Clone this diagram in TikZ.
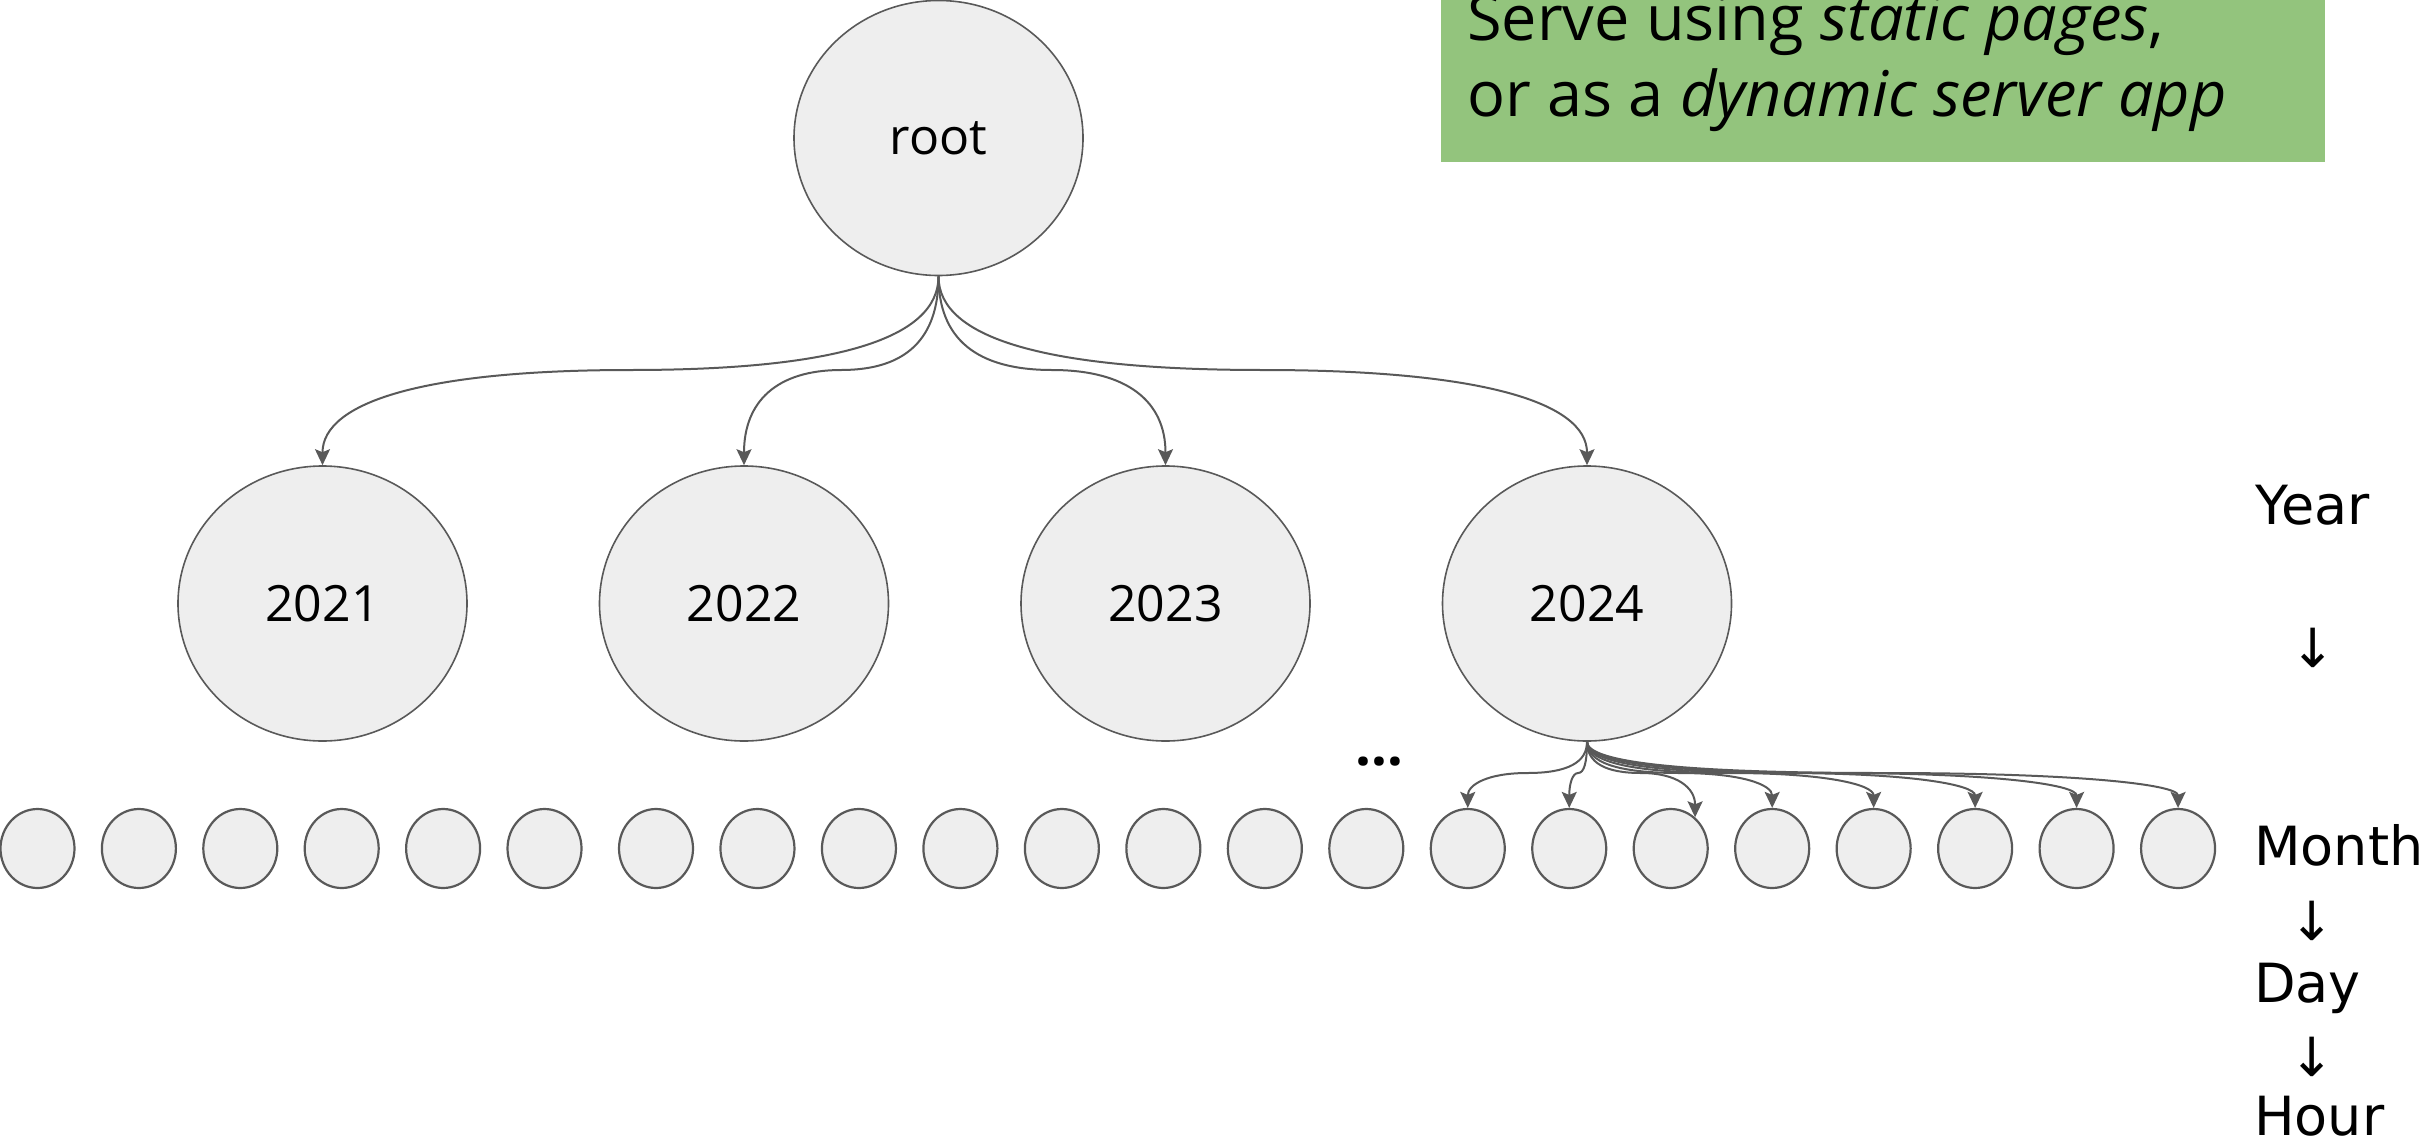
\documentclass[tikz,border=0pt]{standalone}
\usepackage{fontspec}
\setmainfont{Open Sans}
\newfontfamily\dejavu{DejaVu Sans}
\usetikzlibrary{shapes.geometric,arrows.meta,calc}
\definecolor{edgegray}{HTML}{595959}
\definecolor{nodefill}{HTML}{EEEEEE}
\definecolor{boxgreen}{HTML}{93C47D}
% curved orthogonal connector: source, target, y of horizontal run (pt, negative)
\newcommand\cedge[4][]{%
\draw[edge,#1] let \p1=(#2), \p2=(#3), \n1={(\x1+\x2)/2}, \n2={#4} in
 (\p1) .. controls (\x1, {\y1+2/3*(\n2-\y1)}) and ({(\n1+2/3*(\x1-\n1))*1pt}, {\n2*1pt}) .. ({\n1*1pt}, {\n2*1pt})
 .. controls ({(\n1+2/3*(\x2-\n1))*1pt}, {\n2*1pt}) and (\x2, {\y2+2/3*(\n2-\y2)}) .. (\p2);}
\tikzset{
 big/.style={ellipse, draw=edgegray, fill=nodefill, line width=1.6pt, minimum width=289pt, minimum height=275pt, inner sep=0pt, font=\fontsize{50}{60}\selectfont},
 small/.style={ellipse, draw=edgegray, fill=nodefill, line width=2.2pt, minimum width=74pt, minimum height=79pt, inner sep=0pt},
 edge/.style={draw=edgegray, line width=2pt, -{Stealth[length=16pt,width=15pt,inset=3pt]}},
 lvl/.style={font=\dejavu\fontsize{54}{64}\selectfont, anchor=base west, inner sep=0pt},
 arr/.style={font=\dejavu\fontsize{54}{64}\selectfont, inner sep=0pt},
 boxtext/.style={font=\fontsize{63}{76}\selectfont, anchor=base west, inner sep=0pt}
}
\begin{document}
\begin{tikzpicture}[x=1pt,y=-1pt]
\useasboundingbox (0,0) rectangle (2432,1145);
% green box
\node (box) [fill=boxgreen, inner sep=0pt, minimum width=884pt, minimum height=182pt, anchor=south west] at (1441,162) {};
\node (l1) [boxtext] at (1467,41) {Serve using \textit{static pages},};
\node (l2) [boxtext] at (1467,117) {or as a \textit{dynamic server app}};
% tree
\node[big] (root) at (938.5,138) {root};
\node[big] (y21) at (322.5,603.5) {2021};
\node[big] (y22) at (744,603.5) {2022};
\node[big] (y23) at (1165.5,603.5) {2023};
\node[big] (y24) at (1587,603.5) {2024};
\foreach \i in {0,...,5} \node[small] (a\i) at ({37.5+101.4*\i},848.5) {};
\foreach \i in {0,...,15} \node[small] (b\i) at ({656+101.47*\i},848.5) {};
\node (dots) [font=\bfseries\fontsize{56}{60}\selectfont, inner sep=0pt] at (1379,762) {…};
% edges root -> years
\cedge{root.south}{y21.north}{-370}
\cedge{root.south}{y22.north}{-370}
\cedge{root.south}{y23.north}{-370}
\cedge{root.south}{y24.north}{-370}
% edges 2024 -> months
\cedge{y24.south}{b8.north}{-773}
\cedge{y24.south}{b9.north}{-773}
\cedge{y24.south}{b10.52}{-773}
\cedge{y24.south}{b11.north}{-773}
\cedge{y24.south}{b12.north}{-773}
\cedge{y24.south}{b13.north}{-773}
\cedge{y24.south}{b14.north}{-773}
\cedge{y24.south}{b15.north}{-773}
% level labels
\node (year) [lvl] at (2255,524) {Year};
\node (ar1) [arr] at (2313,648) {↓};
\node (month) [lvl] at (2254,865) {Month};
\node (ar2) [arr] at (2312,921) {↓};
\node (day) [lvl] at (2254,1002) {Day};
\node (ar3) [arr] at (2312,1057) {↓};
\node (hour) [lvl] at (2254,1135) {Hour};
\end{tikzpicture}
\end{document}
